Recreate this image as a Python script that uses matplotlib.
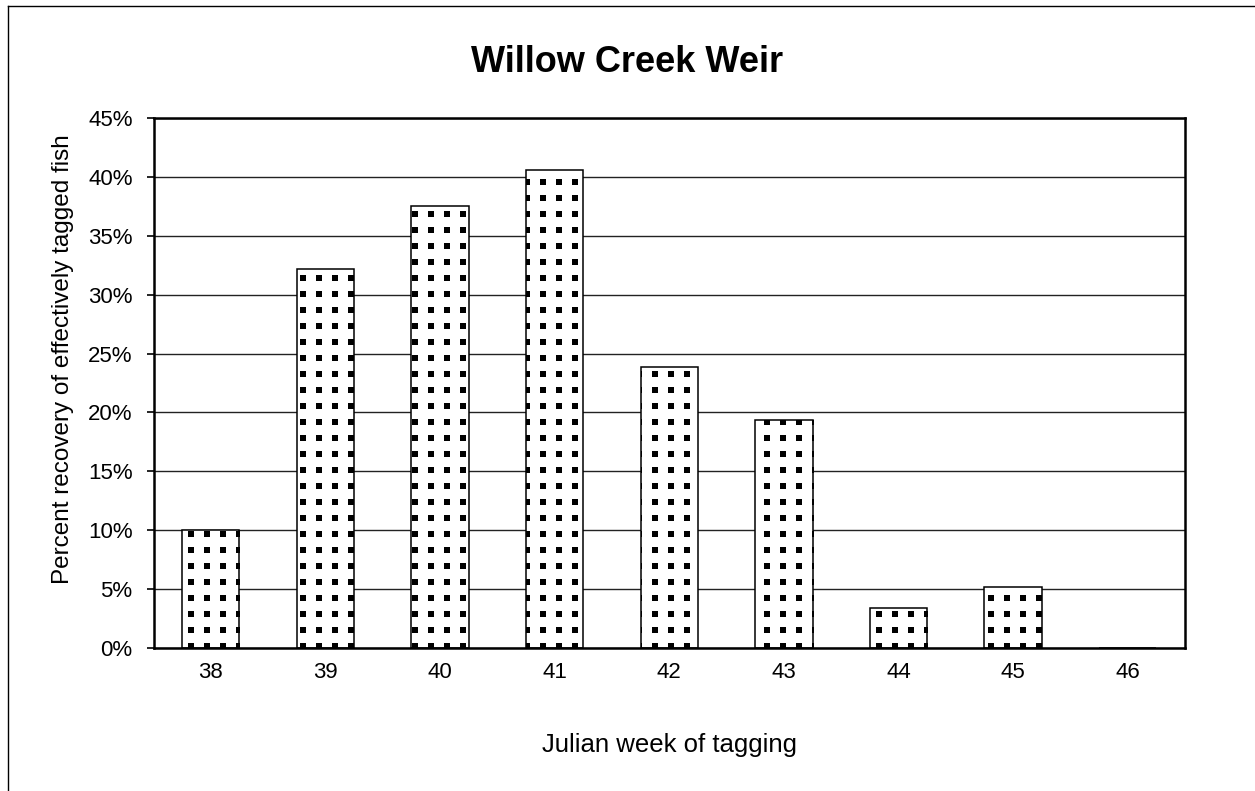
import numpy as np
import matplotlib.pyplot as plt
from matplotlib.lines import Line2D
from matplotlib.ticker import FuncFormatter

plt.rcParams['font.family'] = ['Liberation Sans', 'DejaVu Sans']

weeks = ['38', '39', '40', '41', '42', '43', '44', '45', '46']
recovery = [0.100, 0.322, 0.375, 0.406, 0.239, 0.194, 0.034, 0.052, 0.0]

W, H, DPI = 1255, 791, 100
fig = plt.figure(figsize=(W / DPI, H / DPI), dpi=DPI)
ax = fig.add_axes([153.5 / W, 1 - 648 / H, (1185 - 153.5) / W, (648 - 118) / H])

x = np.arange(len(weeks))
bars = ax.bar(x, recovery, width=0.5, color='white', edgecolor='black',
              linewidth=1.1, zorder=3)

ax.set_xlim(-0.5, len(weeks) - 0.5)
ax.set_ylim(0, 0.45)
ax.set_yticks(np.arange(0, 0.451, 0.05))
ax.yaxis.set_major_formatter(FuncFormatter(lambda v, p: f'{v*100:.0f}%'))
ax.set_xticks(x)
ax.set_xticklabels(weeks)
ax.tick_params(axis='x', length=0, labelsize=16, pad=10)
ax.tick_params(axis='y', length=5, width=1.2, labelsize=16, direction='out', pad=10)
ax.yaxis.grid(True, color='#222222', linewidth=1.0, zorder=0)
ax.set_axisbelow(True)
for s in ax.spines.values():
    s.set_linewidth(1.8)
    s.set_zorder(4)

# dotted fill: square dots on a 16 px grid, clipped to each bar
fig.canvas.draw()
inv = ax.transData.inverted()
step = 16
ox, oy = 302.7, H - 214.3
for b in bars:
    if b.get_height() <= 0:
        continue
    (x0, y0), (x1, y1) = ax.transData.transform([[b.get_x(), 0], [b.get_x() + b.get_width(), b.get_height()]])
    xs = ox + step * np.arange(np.floor((x0 - ox) / step), np.ceil((x1 - ox) / step) + 1)
    ys = oy + step * np.arange(np.floor((y0 - oy) / step), np.ceil((y1 - oy) / step) + 1)
    gx, gy = np.meshgrid(xs, ys)
    pts = inv.transform(np.column_stack([gx.ravel(), gy.ravel()]))
    sc = ax.scatter(pts[:, 0], pts[:, 1], marker='s', s=15, color='black',
                    linewidths=0, zorder=3.5)
    sc.set_clip_path(b)

# chart title is centred on the whole figure, not on the plot area
fig.text(627 / W, 1 - 72 / H, 'Willow Creek Weir', fontsize=26, fontweight='bold',
         ha='center', va='baseline')
ax.set_xlabel('Julian week of tagging', fontsize=18.5, labelpad=36)
ax.set_ylabel('Percent recovery of effectively tagged fish', fontsize=17.5,
              labelpad=10, y=0.545)

# outer chart frame (left and top edges visible)
fig.add_artist(Line2D([7.5 / W, 7.5 / W], [0, 1 - 6 / H], transform=fig.transFigure,
                      color='black', linewidth=1.0))
fig.add_artist(Line2D([7.5 / W, 1], [1 - 6 / H, 1 - 6 / H], transform=fig.transFigure,
                      color='black', linewidth=1.0))

fig.savefig('out.png', dpi=DPI)
